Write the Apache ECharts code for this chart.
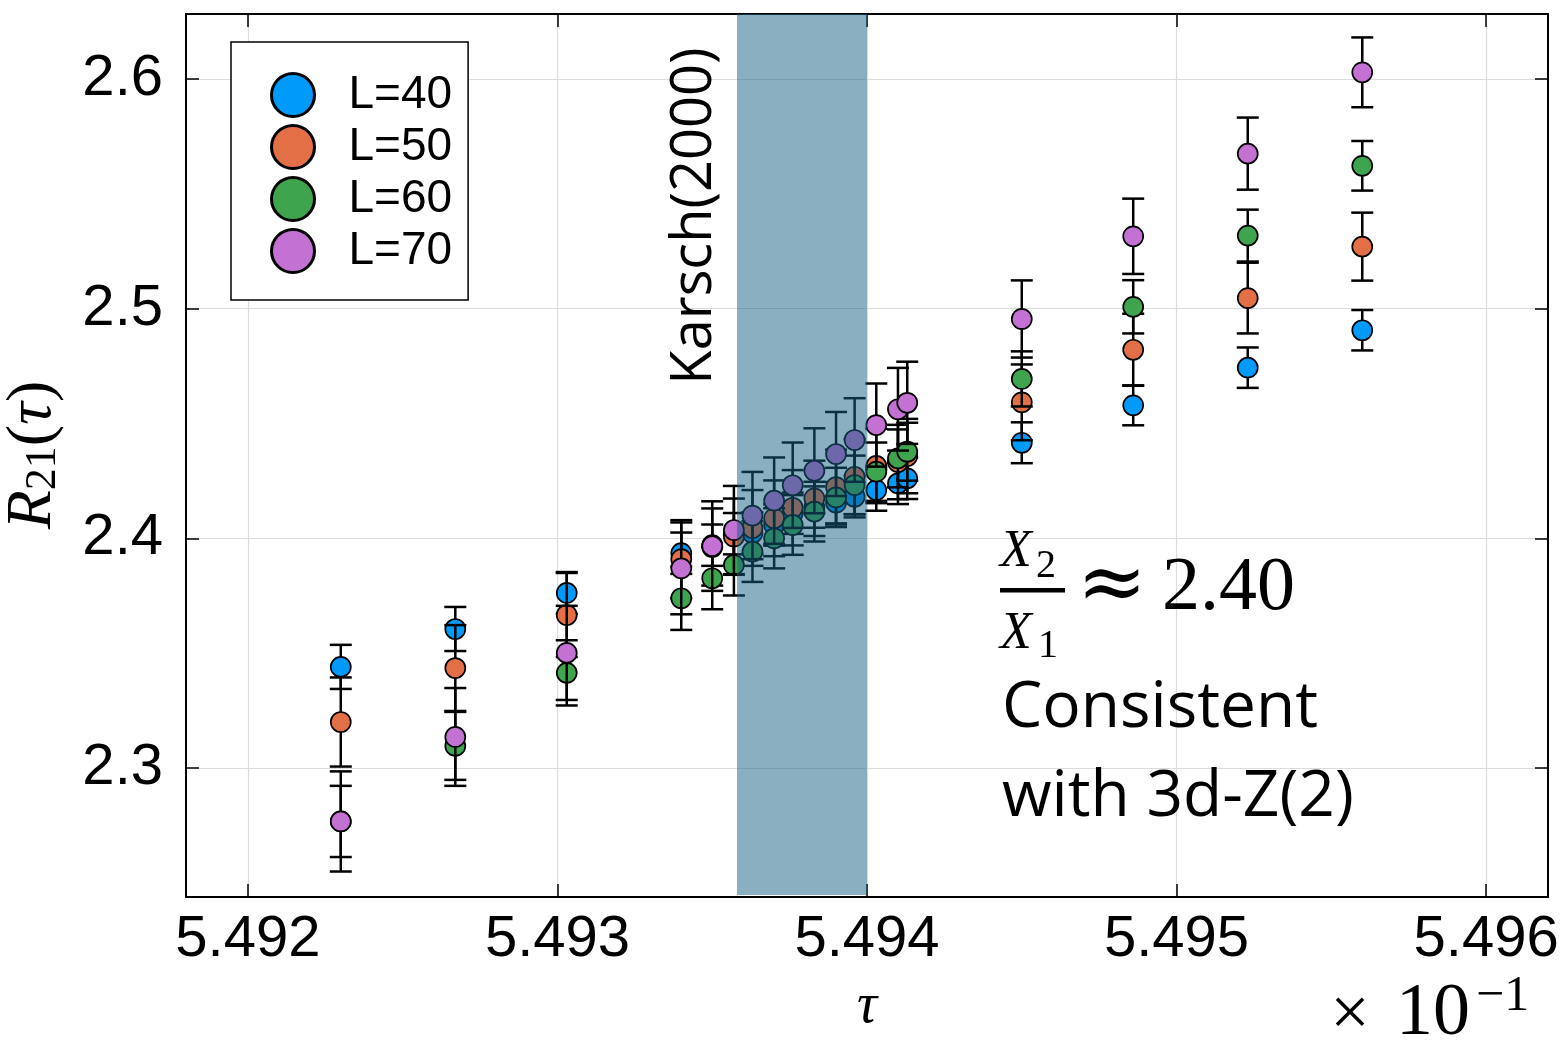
<!DOCTYPE html>
<html>
<head>
<meta charset="utf-8">
<script src="https://cdn.jsdelivr.net/npm/echarts@6/dist/echarts.min.js"></script>
<style>
html,body{margin:0;padding:0;background:#fff;}
#chart{width:1564px;height:1049px;}
</style>
</head>
<body>
<div id="chart"></div>
<script>
// ---- data (tau shown in units of 10^-1) ----
const tau = [5.49230, 5.49267, 5.49303, 5.49340, 5.49350, 5.49357, 5.49363, 5.49370, 5.49376, 5.49383,
             5.49390, 5.49396, 5.49403, 5.49410, 5.49413, 5.49450, 5.49486, 5.49523, 5.49560];
const seriesNames = ['L=40', 'L=50', 'L=60', 'L=70'];
const r21_L40 = [2.3440, 2.3605, 2.3762, 2.3935, 2.3970, 2.4020, 2.4023, 2.4058, 2.4109, 2.4136,
                 2.4155, 2.4181, 2.4210, 2.4239, 2.4261, 2.4416, 2.4579, 2.4743, 2.4906];
const err_L40 = [0.0096, 0.0096, 0.0091, 0.0090, 0.0090, 0.0090, 0.0090, 0.0090, 0.0090, 0.0090,
                 0.0090, 0.0090, 0.0090, 0.0090, 0.0090, 0.0089, 0.0087, 0.0088, 0.0088];
const r21_L50 = [2.3200, 2.3435, 2.3666, 2.3909, 2.3962, 2.4007, 2.4045, 2.4087, 2.4133, 2.4174,
                 2.4223, 2.4268, 2.4315, 2.4332, 2.4358, 2.4592, 2.4821, 2.5046, 2.5270];
const err_L50 = [0.0194, 0.0187, 0.0183, 0.0170, 0.0168, 0.0166, 0.0165, 0.0165, 0.0164, 0.0164,
                 0.0163, 0.0163, 0.0162, 0.0162, 0.0162, 0.0165, 0.0157, 0.0154, 0.0148];
const r21_L60 = [2.2767, 2.3096, 2.3414, 2.3739, 2.3826, 2.3884, 2.3942, 2.4000, 2.4058, 2.4116,
                 2.4178, 2.4232, 2.4290, 2.4348, 2.4377, 2.4694, 2.5008, 2.5318, 2.5622];
const err_L60 = [0.0155, 0.0148, 0.0142, 0.0138, 0.0135, 0.0133, 0.0132, 0.0131, 0.0130, 0.0130,
                 0.0129, 0.0128, 0.0127, 0.0126, 0.0126, 0.0120, 0.0116, 0.0113, 0.0108];
const r21_L70 = [2.2767, 2.3135, 2.3501, 2.3869, 2.3966, 2.4036, 2.4099, 2.4164, 2.4231, 2.4294,
                 2.4367, 2.4428, 2.4493, 2.4562, 2.4590, 2.4955, 2.5315, 2.5675, 2.6029];
const err_L70 = [0.0218, 0.0213, 0.0205, 0.0200, 0.0195, 0.0192, 0.0190, 0.0188, 0.0186, 0.0185,
                 0.0183, 0.0182, 0.0181, 0.0180, 0.0179, 0.0168, 0.0164, 0.0157, 0.0152];
const xTicks = [5.492, 5.493, 5.494, 5.495, 5.496];
const yTicks = [2.3, 2.4, 2.5, 2.6];
const karschBand = [5.49358, 5.494];
const xRange = [5.4918, 5.4962];
const yRange = [2.2438, 2.6283];

// ---- styles ----
const colors = ['#009AFA', '#E36F47', '#3EA44E', '#C371D2'];
const allY = [r21_L40, r21_L50, r21_L60, r21_L70];
const allE = [err_L40, err_L50, err_L60, err_L70];
const sansFont = 'Liberation Sans';
const serifFont = 'Liberation Serif';

function errRender(params, api) {
  const x = api.value(0), y = api.value(1), e = api.value(2);
  const top = api.coord([x, y + e]);
  const bot = api.coord([x, y - e]);
  const hw = 11;
  const st = {stroke: '#000', lineWidth: 2.5, fill: null};
  return {
    type: 'group',
    children: [
      {type: 'line', shape: {x1: top[0], y1: top[1], x2: bot[0], y2: bot[1]}, style: st},
      {type: 'line', shape: {x1: top[0] - hw, y1: top[1], x2: top[0] + hw, y2: top[1]}, style: st},
      {type: 'line', shape: {x1: bot[0] - hw, y1: bot[1], x2: bot[0] + hw, y2: bot[1]}, style: st}
    ]
  };
}

const series = [];
for (let i = 0; i < 4; i++) {
  series.push({
    type: 'custom',
    name: 'err' + i,
    coordinateSystem: 'cartesian2d',
    renderItem: errRender,
    encode: {x: 0, y: 1},
    data: tau.map((t, k) => [t, allY[i][k], allE[i][k]]),
    z: 10 + 2 * i,
    silent: true
  });
  series.push({
    type: 'scatter',
    name: seriesNames[i],
    data: tau.map((t, k) => [t, allY[i][k]]),
    symbol: 'circle',
    symbolSize: 20,
    itemStyle: {color: colors[i], borderColor: '#000', borderWidth: 1.7, opacity: 1},
    z: 11 + 2 * i
  });
}
// shaded band (drawn over the points)
series.push({
  type: 'custom',
  name: 'band',
  coordinateSystem: 'cartesian2d',
  encode: {x: [0, 1]},
  data: [[karschBand[0], karschBand[1]]],
  z: 40,
  silent: true,
  renderItem: function (params, api) {
    const cs = params.coordSys;
    const a = api.coord([api.value(0), yRange[0]]);
    const b = api.coord([api.value(1), yRange[0]]);
    return {
      type: 'rect',
      shape: {x: a[0], y: cs.y, width: b[0] - a[0], height: cs.height - 2},
      style: {fill: 'rgba(22,96,130,0.5)'}
    };
  }
});

const axisLineStyle = {color: '#000', width: 2};
const tickStyle = {color: '#000', width: 1.5};

const option = {
  animation: false,
  backgroundColor: '#fff',
  grid: {left: 186, top: 14, right: 16, bottom: 152, containLabel: false},
  xAxis: [
    {
      type: 'value', min: xRange[0], max: xRange[1], position: 'bottom',
      axisLine: {show: true, onZero: false, lineStyle: axisLineStyle},
      axisTick: {show: true, inside: true, length: 13, customValues: xTicks, lineStyle: tickStyle},
      axisLabel: {customValues: xTicks, formatter: v => v.toFixed(3), fontSize: 58,
                  fontFamily: sansFont, color: '#000', margin: 14},
      splitLine: {show: true, lineStyle: {color: '#dcdcdc', width: 1.2}},
      name: 'τ', nameLocation: 'middle', nameGap: 82,
      nameTextStyle: {fontFamily: serifFont, fontStyle: 'italic', fontSize: 56, color: '#000'}
    },
    {
      type: 'value', min: xRange[0], max: xRange[1], position: 'top',
      axisLine: {show: true, onZero: false, lineStyle: axisLineStyle},
      axisTick: {show: true, inside: true, length: 13, customValues: xTicks, lineStyle: tickStyle},
      axisLabel: {show: false},
      splitLine: {show: false}
    }
  ],
  yAxis: [
    {
      type: 'value', min: yRange[0], max: yRange[1], position: 'left',
      axisLine: {show: true, onZero: false, lineStyle: axisLineStyle},
      axisTick: {show: true, inside: true, length: 13, customValues: yTicks, lineStyle: tickStyle},
      axisLabel: {customValues: yTicks, formatter: v => v.toFixed(1), fontSize: 58,
                  fontFamily: sansFont, color: '#000', margin: 23},
      splitLine: {show: true, lineStyle: {color: '#dcdcdc', width: 1.2}}
    },
    {
      type: 'value', min: yRange[0], max: yRange[1], position: 'right',
      axisLine: {show: true, onZero: false, lineStyle: axisLineStyle},
      axisTick: {show: true, inside: true, length: 13, customValues: yTicks, lineStyle: tickStyle},
      axisLabel: {show: false},
      splitLine: {show: false}
    }
  ],
  legend: {
    data: seriesNames,
    orient: 'vertical',
    left: 231, top: 42,
    icon: 'circle',
    itemWidth: 43, itemHeight: 43, itemGap: 6,
    padding: [30, 16, 26, 39],
    backgroundColor: '#fff',
    borderColor: '#000', borderWidth: 1.5,
    itemStyle: {borderColor: '#000', borderWidth: 3},
    textStyle: {fontSize: 46, fontFamily: sansFont, color: '#000', padding: [0, 0, 0, 29]}
  },
  graphic: [
    // Karsch(2000) label
    {type: 'text', x: 695, y: 216, rotation: Math.PI / 2, z: 50,
     style: {text: 'Karsch(2000)', font: '56px "Open Sans"', fill: '#000', align: 'center', verticalAlign: 'middle'}},
    // y-axis title R_21(tau)
    {type: 'text', x: 33, y: 455, rotation: Math.PI / 2, z: 50,
     style: {
       text: '{r|R}{s|21}{p|(}{t|τ}{p|)}',
       align: 'center', verticalAlign: 'middle',
       rich: {
         r: {fontFamily: serifFont, fontStyle: 'italic', fontSize: 64, lineHeight: 64, fill: '#000'},
         s: {fontFamily: serifFont, fontSize: 44, lineHeight: 30, verticalAlign: 'bottom', fill: '#000'},
         p: {fontFamily: serifFont, fontSize: 64, lineHeight: 64, fill: '#000'},
         t: {fontFamily: serifFont, fontStyle: 'italic', fontSize: 64, lineHeight: 64, fill: '#000'}
       }
     }},
    // x10^-1
    {type: 'text', x: 1350, y: 1017, z: 50,
     style: {text: '×', font: '70px "Liberation Serif"', fill: '#000', align: 'center', verticalAlign: 'middle'}},
    {type: 'text', x: 1396, y: 1015, z: 50,
     style: {text: '10', font: '74px "Liberation Serif"', fill: '#000', align: 'left', verticalAlign: 'middle'}},
    {type: 'text', x: 1476, y: 997, z: 50,
     style: {text: '−1', font: '50px "Liberation Serif"', fill: '#000', align: 'left', verticalAlign: 'middle'}},
    // fraction X2/X1 ≈ 2.40
    {type: 'text', x: 1000, y: 552, z: 50,
     style: {text: 'X', font: 'italic 52px "Liberation Serif"', fill: '#000', align: 'left', verticalAlign: 'middle'}},
    {type: 'text', x: 1036, y: 566, z: 50,
     style: {text: '2', font: '40px "Liberation Serif"', fill: '#000', align: 'left', verticalAlign: 'middle'}},
    {type: 'rect', shape: {x: 1000, y: 588, width: 65, height: 4.5}, style: {fill: '#000'}, z: 50},
    {type: 'text', x: 1000, y: 634, z: 50,
     style: {text: 'X', font: 'italic 52px "Liberation Serif"', fill: '#000', align: 'left', verticalAlign: 'middle'}},
    {type: 'text', x: 1038, y: 646, z: 50,
     style: {text: '1', font: '40px "Liberation Serif"', fill: '#000', align: 'left', verticalAlign: 'middle'}},
    {type: 'text', x: 1112, y: 588, z: 50,
     style: {text: '≈', font: '84px "DejaVu Serif"', fill: '#000', align: 'center', verticalAlign: 'middle'}},
    {type: 'text', x: 1162, y: 589, z: 50,
     style: {text: '2.40', font: '76px "Liberation Serif"', fill: '#000', align: 'left', verticalAlign: 'middle'}},
    {type: 'text', x: 1002, y: 709, z: 50,
     style: {text: 'Consistent', font: '64px "Open Sans"', fill: '#000', align: 'left', verticalAlign: 'middle'}},
    {type: 'text', x: 1002, y: 798, z: 50,
     style: {text: 'with 3d-Z(2)', font: '64px "Open Sans"', fill: '#000', align: 'left', verticalAlign: 'middle'}}
  ],
  series: series
};

const chart = echarts.init(document.getElementById('chart'), null, {renderer: 'canvas'});
chart.setOption(option);
</script>
</body>
</html>
